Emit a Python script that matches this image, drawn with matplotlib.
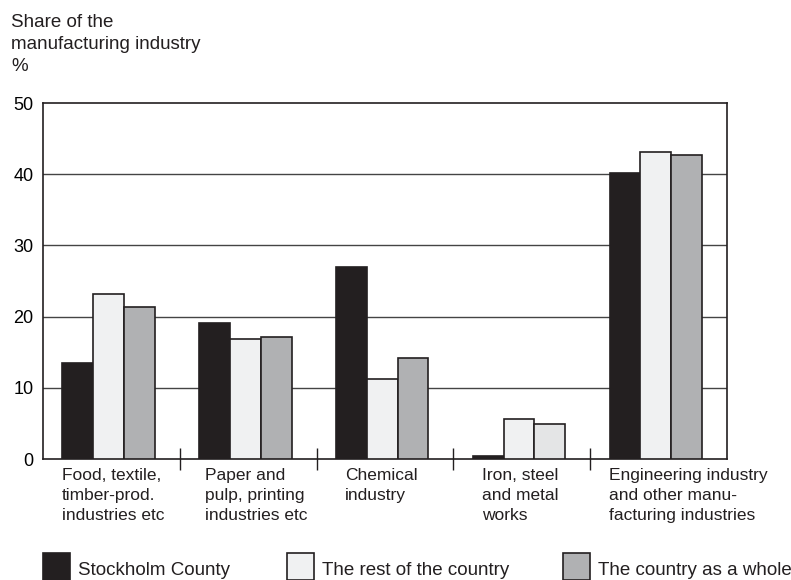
import matplotlib.pyplot as plt
import matplotlib.patches as mpatches
import numpy as np

plt.rcParams['font.family'] = ['Liberation Sans', 'DejaVu Sans']

categories = ['Food, textile,\ntimber-prod.\nindustries etc',
              'Paper and\npulp, printing\nindustries etc',
              'Chemical\nindustry',
              'Iron, steel\nand metal\nworks',
              'Engineering industry\nand other manu-\nfacturing industries']
stockholm = [13.5, 19.1, 27.0, 0.4, 40.1]
rest = [23.2, 16.8, 11.2, 5.6, 43.1]
whole = [21.3, 17.1, 14.2, 4.9, 42.7]
series_names = ['Stockholm County', 'The rest of the country', 'The country as a whole']

black = '#231f20'
light = '#f0f1f2'
grey = '#b0b1b3'

fig = plt.figure(figsize=(7.91, 5.8), dpi=100)
ax = fig.add_axes([43/791, 1-459/580, 684/791, 356/580])

x = np.arange(len(categories))
w = 0.225
b1 = ax.bar(x - 0.245, stockholm, w, color=black, edgecolor=black, lw=1.2, zorder=3)
b2 = ax.bar(x - 0.02, rest, w, color=light, edgecolor=black, lw=1.2, zorder=3)
b3 = ax.bar(x + 0.205, whole, w, color=grey, edgecolor=black, lw=1.2, zorder=3)
b3[3].set_facecolor('#e4e5e6')  # lighter in the original print

ax.set_xlim(-0.5, len(categories) - 0.5)
ax.set_ylim(0, 50)
ax.set_yticks([0, 10, 20, 30, 40, 50])
ax.tick_params(axis='y', length=0, pad=7, labelsize=13)
ax.set_xticks(np.arange(len(categories) - 1) + 0.5)
ax.set_xticklabels([])
ax.tick_params(axis='x', direction='inout', length=16, width=1, color=black)
for yv in [10, 20, 30, 40]:
    ax.axhline(yv, color='#444444', lw=1, zorder=1)
for s in ax.spines.values():
    s.set_color(black)
    s.set_linewidth(1.2)

# label nudges in pixels (group width ~137 px)
nudge = [0, 6, 9, 9, 0]
for i, lab in enumerate(categories):
    ax.text(i - 0.36 + nudge[i]/136.8, -1.3, lab, ha='left', va='top', fontsize=12.5,
            color='#231f20', linespacing=1.42)

fig.text(11/791, 1 - 14/580, 'Share of the\nmanufacturing industry\n%', ha='left', va='top',
         fontsize=13.5, color='#231f20', linespacing=1.38)

# legend
box_x = [43, 287, 563]
for bx, fc, name in zip(box_x, [black, light, grey], series_names):
    fig.add_artist(mpatches.Rectangle((bx/791, 0), 27/791, 27/580, transform=fig.transFigure,
                                      facecolor=fc, edgecolor=black, lw=1.2))
    fig.text((bx + 35)/791, 5/580, name, ha='left', va='baseline', fontsize=13.5, color='#231f20')

fig.savefig('out.png', dpi=100)
